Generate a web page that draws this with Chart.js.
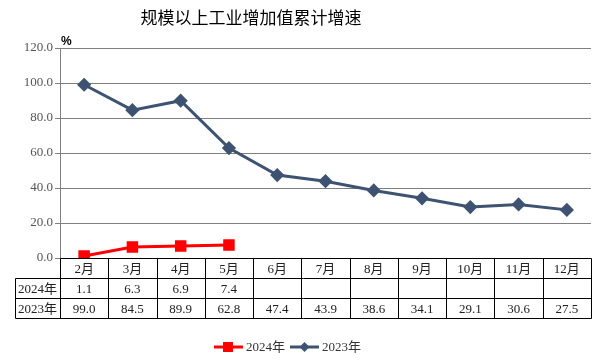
<!DOCTYPE html>
<html><head><meta charset="utf-8">
<script src="https://cdn.jsdelivr.net/npm/chart.js@4/dist/chart.umd.min.js"></script>
<style>html,body{margin:0;padding:0;background:#fff;}#wrap{width:601px;height:360px;}</style>
</head><body><div id="wrap"><canvas id="c" width="601" height="360"></canvas></div>
<script>
const titleText = '规模以上工业增加值累计增速';
const months = ['2月','3月','4月','5月','6月','7月','8月','9月','10月','11月','12月'];
const label2024 = '2024年';
const label2023 = '2023年';
const values2024 = [1.1, 6.3, 6.9, 7.4, null, null, null, null, null, null, null];
const values2023 = [99.0, 84.5, 89.9, 62.8, 47.4, 43.9, 38.6, 34.1, 29.1, 30.6, 27.5];
const unitLabel = '%';

const RED = '#FF0000';
const NAVY = '#3E5271';
const SERIF = "'Liberation Serif','Noto Sans CJK SC',serif";

const overlay = {
  id: 'overlay',
  afterDraw(chart) {
    const ctx = chart.ctx;
    const x = chart.scales.x;
    const yS = chart.scales.y;
    const n = months.length;
    const cw = (x.right - x.left) / n;
    const top = yS.bottom;
    const rowH = 20;
    const tableLeft = 15;
    ctx.save();
    // title
    ctx.fillStyle = '#000';
    ctx.font = "17px 'Noto Sans CJK SC'";
    ctx.textAlign = 'center';
    ctx.textBaseline = 'middle';
    ctx.fillText(titleText, 251, 18);
    // unit
    ctx.font = "bold 12px 'Liberation Sans'";
    ctx.textAlign = 'left';
    ctx.fillText(unitLabel, 61, 42);
    // table lines
    ctx.strokeStyle = '#000';
    ctx.lineWidth = 1;
    ctx.beginPath();
    const L = Math.round(x.left) + 0.5, R = Math.round(x.right) + 0.5;
    const t0 = Math.round(top) + 0.5;
    ctx.moveTo(L, t0); ctx.lineTo(R, t0);
    for (let r = 1; r <= 3; r++) {
      const yy = t0 + r * rowH;
      ctx.moveTo(tableLeft + 0.5, yy);
      ctx.lineTo(R, yy);
    }
    ctx.moveTo(tableLeft + 0.5, t0 + rowH); ctx.lineTo(tableLeft + 0.5, t0 + 3 * rowH);
    for (let i = 0; i <= n; i++) {
      const xx = Math.round(x.left + i * cw) + 0.5;
      ctx.moveTo(xx, t0); ctx.lineTo(xx, t0 + 3 * rowH);
    }
    ctx.stroke();
    // texts
    ctx.font = '13px ' + SERIF;
    ctx.fillStyle = '#222';
    ctx.textAlign = 'center';
    ctx.textBaseline = 'middle';
    for (let i = 0; i < n; i++) {
      const cx = x.getPixelForValue(i);
      ctx.fillText(months[i], cx, t0 + rowH * 0.5 + 1);
      if (values2024[i] !== null) ctx.fillText(values2024[i].toFixed(1), cx, t0 + rowH * 1.5 + 1);
      if (values2023[i] !== null) ctx.fillText(values2023[i].toFixed(1), cx, t0 + rowH * 2.5 + 1);
    }
    const lx = (tableLeft + x.left) / 2;
    ctx.fillText(label2024, lx, t0 + rowH * 1.5 + 1);
    ctx.fillText(label2023, lx, t0 + rowH * 2.5 + 1);
    // legend
    const ly = 347;
    ctx.lineWidth = 3;
    ctx.strokeStyle = RED;
    ctx.beginPath(); ctx.moveTo(214, ly); ctx.lineTo(243, ly); ctx.stroke();
    ctx.fillStyle = RED;
    ctx.fillRect(223, ly - 5, 10, 10);
    ctx.strokeStyle = NAVY;
    ctx.beginPath(); ctx.moveTo(290, ly); ctx.lineTo(319, ly); ctx.stroke();
    ctx.fillStyle = NAVY;
    ctx.beginPath();
    ctx.moveTo(304.5, ly - 5); ctx.lineTo(309.5, ly); ctx.lineTo(304.5, ly + 5); ctx.lineTo(299.5, ly);
    ctx.closePath(); ctx.fill();
    ctx.fillStyle = '#333';
    ctx.textAlign = 'left';
    ctx.font = '13px ' + SERIF;
    ctx.fillText(label2024, 246, ly + 1);
    ctx.fillText(label2023, 322, ly + 1);
    ctx.restore();
  }
};

new Chart(document.getElementById('c'), {
  type: 'line',
  data: {
    labels: months,
    datasets: [
      { label: label2024, data: values2024, borderColor: RED, backgroundColor: RED, borderWidth: 3,
        pointStyle: 'rect', pointRadius: 6, pointHoverRadius: 6, spanGaps: false, tension: 0 },
      { label: label2023, data: values2023, borderColor: NAVY, backgroundColor: NAVY, borderWidth: 3,
        pointStyle: 'rectRot', pointRadius: 5, pointHoverRadius: 5, tension: 0 }
    ]
  },
  options: {
    responsive: false,
    animation: false,
    devicePixelRatio: 1,
    layout: { padding: { left: 0, right: 10, top: 48, bottom: 102 } },
    plugins: { legend: { display: false }, title: { display: false }, tooltip: { enabled: false } },
    scales: {
      x: {
        offset: true,
        grid: { display: false },
        border: { display: false },
        ticks: { display: false },
        afterFit(s) { s.height = 0; }
      },
      y: {
        min: 0, max: 120,
        afterFit(s) { s.width = 60; },
        grid: { color: '#7F7F7F', lineWidth: 1, tickLength: 5, drawTicks: true, tickColor: '#7F7F7F' },
        border: { display: true, color: '#7F7F7F', width: 1 },
        ticks: { stepSize: 20, padding: 2, color: '#555', font: { family: SERIF, size: 13 },
          callback: v => Number(v).toFixed(1) }
      }
    }
  },
  plugins: [overlay]
});
</script>
</body></html>
